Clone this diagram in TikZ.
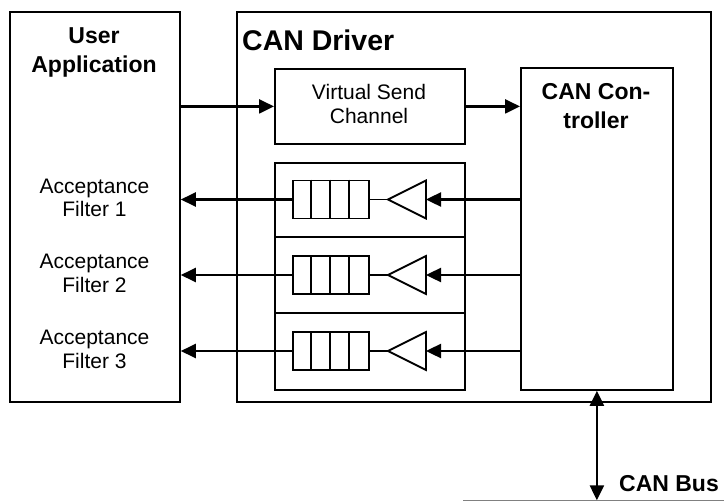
\documentclass[tikz,border=0pt]{standalone}
\usepackage{fontspec}
\setmainfont{Liberation Sans}
\usetikzlibrary{arrows.meta}
\tikzset{
  box/.style={draw, line width=1.8pt, inner sep=0pt, anchor=north west},
  arr/.style={line width=2.4pt, -{Triangle[length=15pt,width=14pt]}},
  biarr/.style={line width=2.4pt, {Triangle[length=15pt,width=14pt]}-{Triangle[length=15pt,width=14pt]}},
  thin line/.style={line width=1.8pt},
  lbl/.style={inner sep=0pt, anchor=base, align=center},
  bigbold/.style={font=\fontsize{28.5}{34}\selectfont\bfseries},
  bold/.style={font=\fontsize{23}{29}\selectfont\bfseries},
  plain/.style={font=\fontsize{21}{23.3}\selectfont},
}
\begin{document}
\begin{tikzpicture}[x=1pt,y=-1pt]
\useasboundingbox (0,0) rectangle (724,501);

% outer blocks
\node[box, minimum width=170pt, minimum height=390pt] (app) at (9,11) {};
\node[box, minimum width=474pt, minimum height=390pt] (drv) at (236,11) {};
\node[box, minimum width=190pt, minimum height=75pt] (vsc) at (274,68) {};
\node[box, minimum width=152pt, minimum height=322pt] (ctrl) at (520,67) {};
\node[box, minimum width=190pt, minimum height=227pt] (stack) at (274,162) {};
\draw[thin line] (274,237) -- (464,237);
\draw[thin line] (274,313) -- (464,313);

% labels (anchored at the baseline of their last line)
\node[lbl, bold] (applbl) at (94,72) {User\\Application};
\node[lbl, bigbold, anchor=base west] (drvlbl) at (242,50) {CAN Driver};
\node[lbl, plain] (vsclbl) at (369,123) {Virtual Send\\Channel};
\node[lbl, bold] (ctrllbl) at (596,128) {CAN Con-\\troller};

% send path
\draw[arr] (app.east |- vsc.west) -- (vsc.west);
\draw[arr] (vsc.east) -- (ctrl.west |- vsc.east);

% receive paths: controller -> amplifier -> queue -> filter
\foreach \i/\y in {1/199.5, 2/275, 3/351} {
  \node[box, anchor=center, minimum width=76pt, minimum height=38pt] (q\i) at (331,\y) {};
  \foreach \k in {1,2,3}
    \draw[thin line] ([xshift=\k*19pt]q\i.north west) -- ([xshift=\k*19pt]q\i.south west);
  \coordinate (tip\i) at (388,\y);
  \coordinate (base\i) at (426,\y);
  \draw[thin line, line join=miter] (tip\i) -- (426,\y-19) -- (426,\y+19) -- cycle;
  \draw[thin line] (q\i.east) -- (tip\i);
  \draw[arr] (ctrl.west |- base\i) -- (base\i);
  \draw[arr] (q\i.west) -- (app.east |- q\i.west);
  \node[lbl, plain] (filt\i) at (94.5,\y+17.2) {Acceptance\\Filter \i};
}

% bus
\coordinate (busL) at (463,500.3);
\coordinate (busR) at (724,500.3);
\draw[gray, line width=1.4pt] (busL) -- (busR);
\draw[biarr] (ctrl.south) -- (ctrl.south |- busL);
\node[lbl, bold, anchor=base west] (buslbl) at (619,491) {CAN Bus};
\end{tikzpicture}
\end{document}
